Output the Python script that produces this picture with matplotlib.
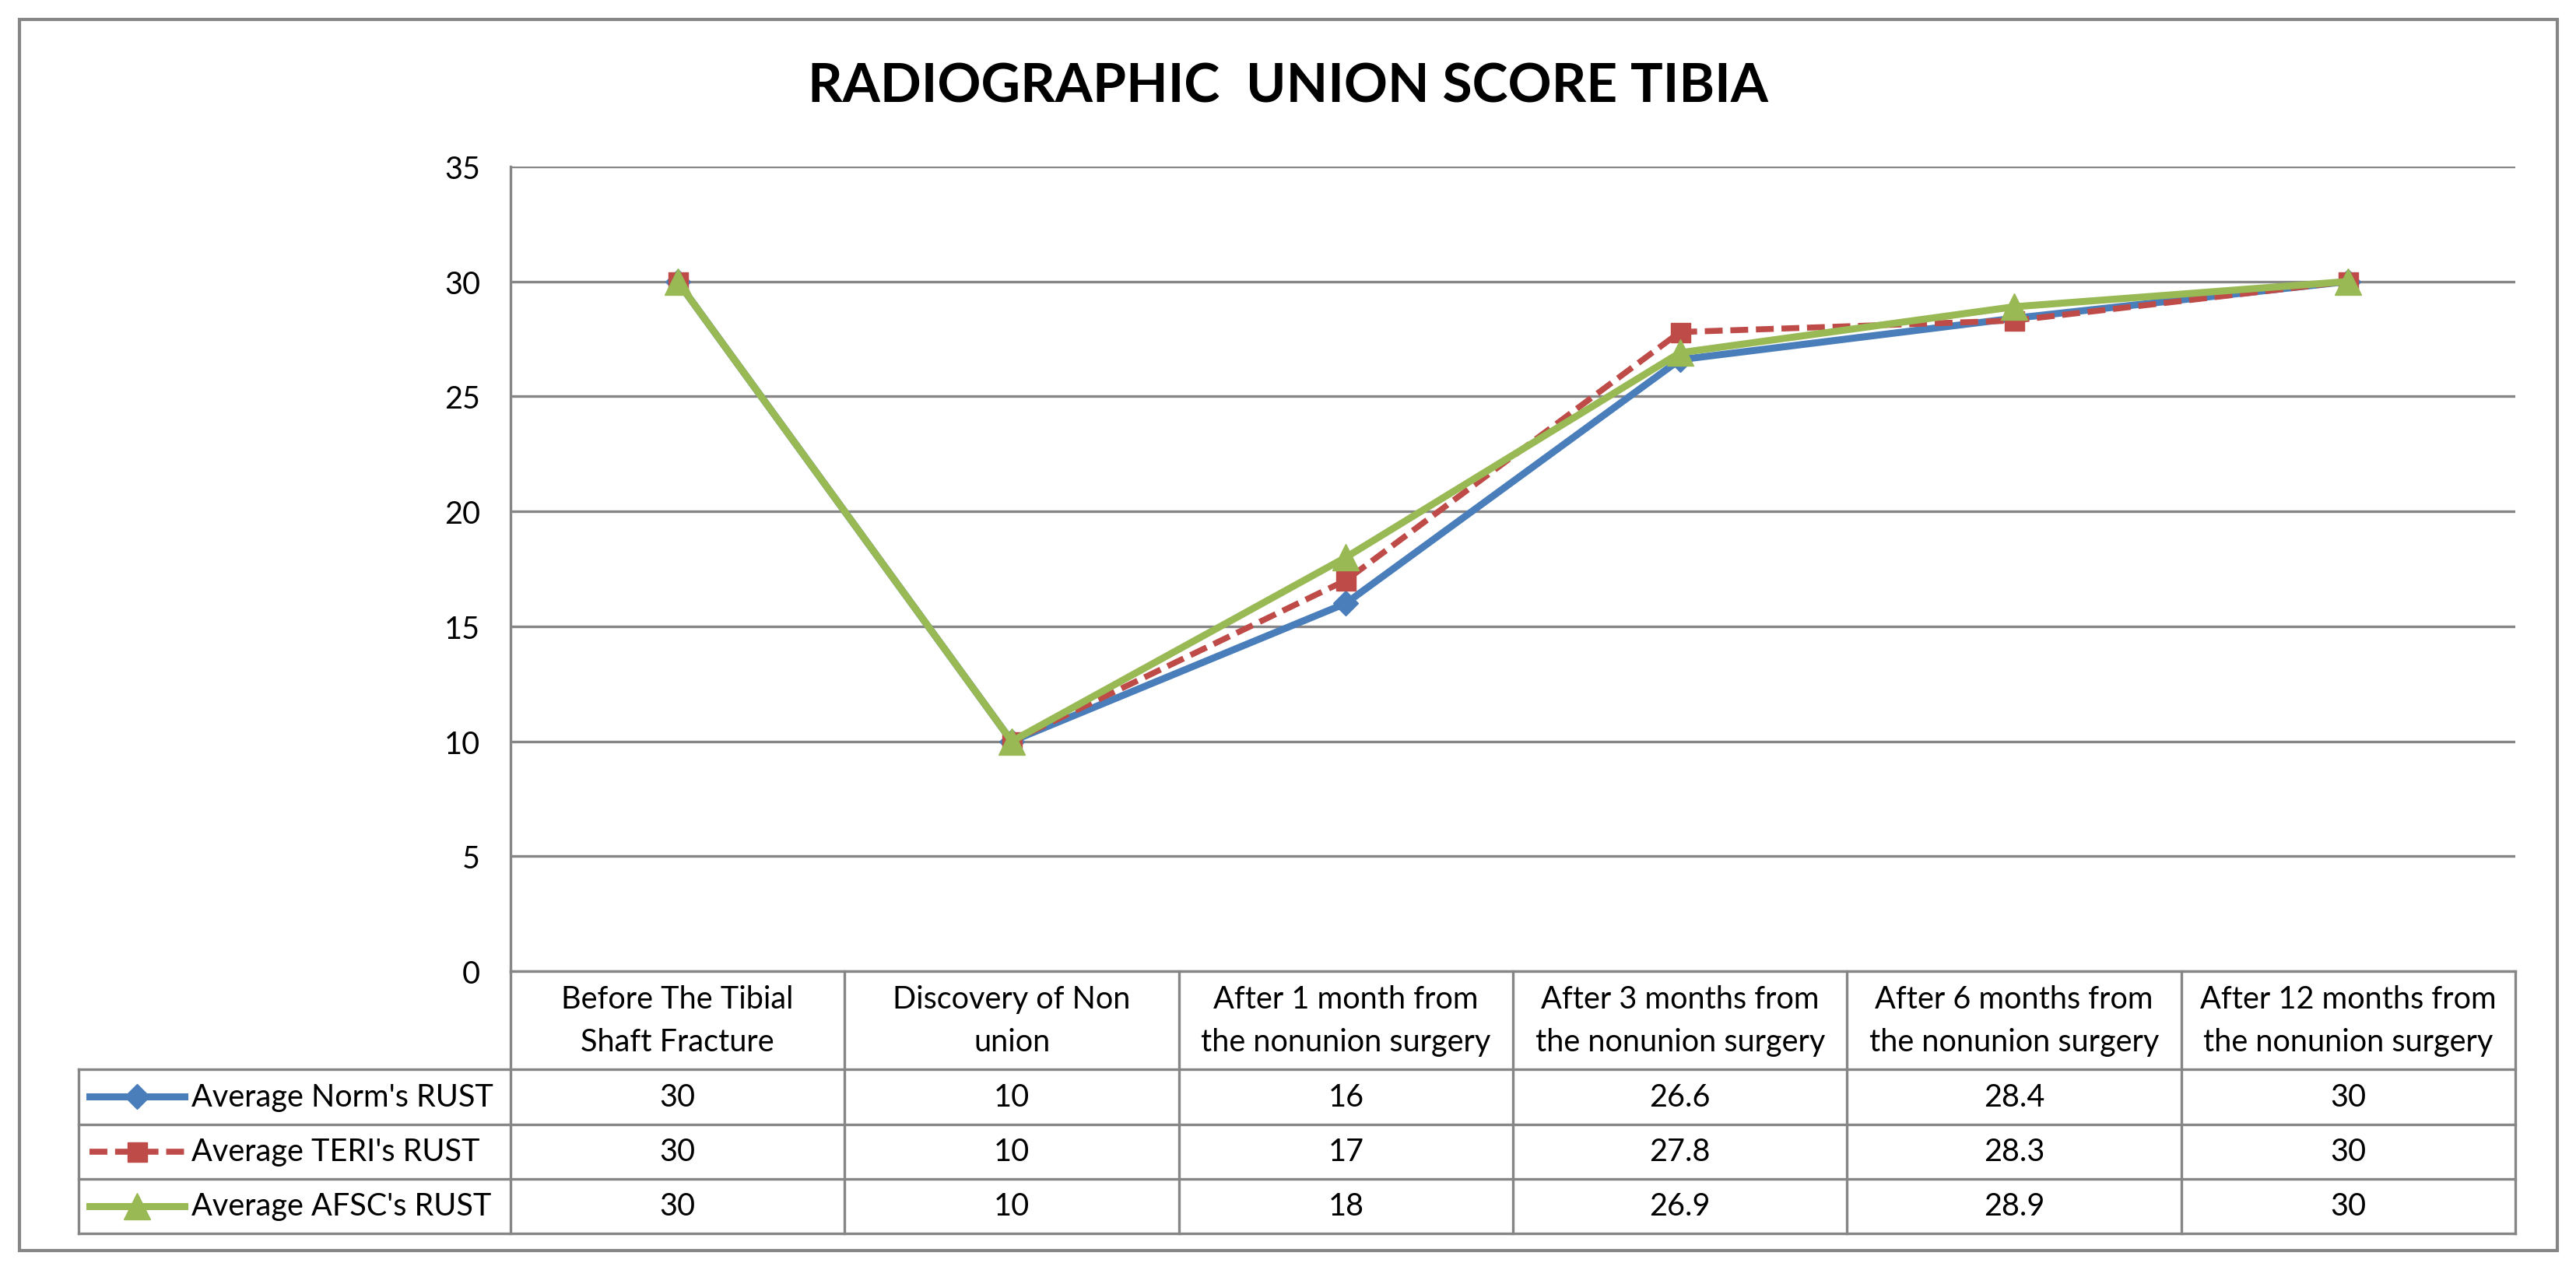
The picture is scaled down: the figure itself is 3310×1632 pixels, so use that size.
import matplotlib
matplotlib.use('Agg')
import matplotlib.pyplot as plt
from matplotlib.patches import Rectangle
from matplotlib.lines import Line2D

plt.rcParams['font.family'] = ['Lato', 'DejaVu Sans']

title = 'RADIOGRAPHIC  UNION SCORE TIBIA'
categories = ['Before The Tibial\nShaft Fracture',
              'Discovery of Non\nunion',
              'After 1 month from\nthe nonunion surgery',
              'After 3 months from\nthe nonunion surgery',
              'After 6 months from\nthe nonunion surgery',
              'After 12 months from\nthe nonunion surgery']
series_names = ["Average Norm's RUST", "Average TERI's RUST", "Average AFSC's RUST"]
norm = [30, 10, 16, 26.6, 28.4, 30]
teri = [30, 10, 17, 27.8, 28.3, 30]
afsc = [30, 10, 18, 26.9, 28.9, 30]
y_ticks = [0, 5, 10, 15, 20, 25, 30, 35]

W, H = 3310, 1633
grid_col = '#868686'
fs = 28.5
styles = [
    dict(color='#4A7EBB', marker='D', markersize=16, linestyle='-', linewidth=6.5),
    dict(color='#BE4B48', marker='s', markersize=18, linestyle=(0, (3, 1.3)), linewidth=5.5),
    dict(color='#98B954', marker='^', markersize=24, linestyle='-', linewidth=6.5),
]


def fbox(x0, y0, x1, y1):
    return [x0 / W, 1 - y1 / H, (x1 - x0) / W, (y1 - y0) / H]


fig = plt.figure(figsize=(W / 100, H / 100), dpi=100)

# plot area
ax = fig.add_axes(fbox(656, 215, 3232, 1249))
x = list(range(len(categories)))
for vals, st in zip([norm, teri, afsc], styles):
    ax.plot(x, vals, clip_on=False, zorder=3, **st)
ax.set_xlim(-0.5, len(categories) - 0.5)
ax.set_ylim(0, 35)
ax.set_yticks(y_ticks)
ax.set_xticks([])
ax.tick_params(axis='y', length=0, pad=28, labelsize=fs)
ax.yaxis.grid(True, color=grid_col, linewidth=2.4)
ax.set_axisbelow(True)
for s in ['top', 'right']:
    ax.spines[s].set_visible(False)
for s in ['left', 'bottom']:
    ax.spines[s].set_color(grid_col)
    ax.spines[s].set_linewidth(2.4)

# data table
col_w = (3232 - 656) / len(categories)
xmin = -0.5 - (656 - 101) / col_w
head_h = 1.8
n_rows = len(series_names)
tax = fig.add_axes(fbox(101, 1249, 3232, 1586))
tax.set_xlim(xmin, len(categories) - 0.5)
tax.set_ylim(head_h + n_rows, 0)
tax.axis('off')

lkw = dict(color=grid_col, linewidth=2.4, clip_on=False)
for i in range(n_rows + 1):
    tax.plot([xmin, len(categories) - 0.5], [head_h + i, head_h + i], **lkw)
for k in range(len(categories) + 1):
    tax.plot([k - 0.5, k - 0.5], [0, head_h + n_rows], **lkw)
tax.plot([xmin, xmin], [head_h, head_h + n_rows], **lkw)

for k, c in enumerate(categories):
    tax.text(k, head_h / 2, c, ha='center', va='center', fontsize=fs,
             linespacing=1.62)

key_l = xmin + 14 / col_w
key_r = xmin + 136 / col_w
for i, (name, vals, st) in enumerate(zip(series_names, [norm, teri, afsc], styles)):
    yc = head_h + i + 0.5
    tax.add_line(Line2D([key_l, key_r], [yc, yc], color=st['color'],
                        linestyle=st['linestyle'], linewidth=st['linewidth'],
                        clip_on=False))
    tax.add_line(Line2D([(key_l + key_r) / 2], [yc], color=st['color'],
                        marker=st['marker'], markersize=st['markersize'],
                        linestyle='none', clip_on=False))
    tax.text(xmin + 145 / col_w, yc, name, ha='left', va='center', fontsize=fs)
    for k, v in enumerate(vals):
        tax.text(k, yc, f'{v:g}', ha='center', va='center', fontsize=fs)

fig.text(0.5, 1 - 112 / H, title, ha='center', va='center', fontsize=50,
         fontweight='bold')

fig.patches.append(Rectangle((25 / W, 1 - 1608 / H), (3286 - 25) / W, (1608 - 26) / H,
                             transform=fig.transFigure, fill=False,
                             edgecolor=grid_col, linewidth=3))

fig.savefig('out.png', dpi=100)
